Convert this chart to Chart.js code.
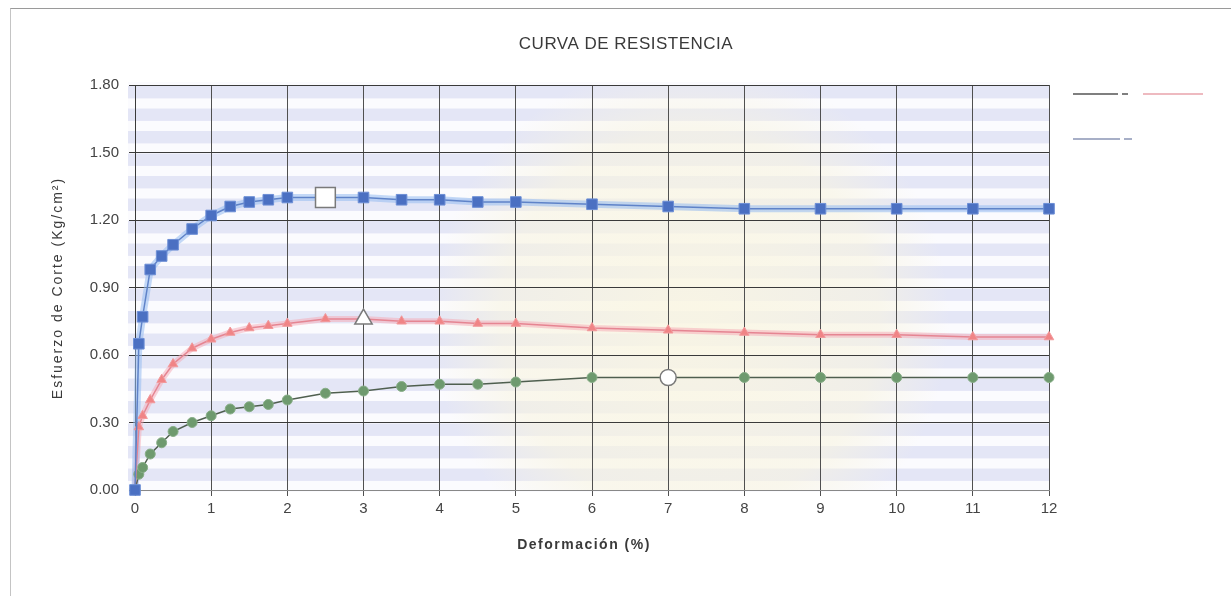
<!DOCTYPE html>
<html>
<head>
<meta charset="utf-8">
<title>Curva de Resistencia</title>
<script src="https://cdn.jsdelivr.net/npm/chart.js@4.4.1/dist/chart.umd.min.js"></script>
<style>
  html, body { margin: 0; padding: 0; background: #fff; }
  #wrap { position: relative; width: 1231px; height: 596px; overflow: hidden; }
  #frame { position: absolute; left: 10px; top: 8px; width: 1230px; height: 600px;
           border-left: 1px solid #c4c4c4; border-top: 1px solid #9a9a9a; }
  #chart { position: absolute; left: 0; top: 0; }
</style>
</head>
<body>
<div id="wrap">
  <div id="frame"></div>
  <canvas id="chart" width="1231" height="596"></canvas>
</div>
<script>
// Deformación (%) de cada lectura
const deformacion = [0, 0.05, 0.1, 0.2, 0.35, 0.5, 0.75, 1, 1.25, 1.5, 1.75, 2, 2.5, 3, 3.5, 4, 4.5, 5, 6, 7, 8, 9, 10, 11, 12];

// Esfuerzo de corte (Kg/cm2) por espécimen
const esfuerzoAzul = [0, 0.65, 0.77, 0.98, 1.04, 1.09, 1.16, 1.22, 1.26, 1.28, 1.29, 1.30, 1.30, 1.30, 1.29, 1.29, 1.28, 1.28, 1.27, 1.26, 1.25, 1.25, 1.25, 1.25, 1.25];
const esfuerzoRojo = [0, 0.28, 0.33, 0.40, 0.49, 0.56, 0.63, 0.67, 0.70, 0.72, 0.73, 0.74, 0.76, 0.76, 0.75, 0.75, 0.74, 0.74, 0.72, 0.71, 0.70, 0.69, 0.69, 0.68, 0.68];
const esfuerzoVerde = [0, 0.07, 0.10, 0.16, 0.21, 0.26, 0.30, 0.33, 0.36, 0.37, 0.38, 0.40, 0.43, 0.44, 0.46, 0.47, 0.47, 0.48, 0.50, 0.50, 0.50, 0.50, 0.50, 0.50, 0.50];

// punto marcado (hueco) de cada curva, por deformación
const picoAzul = 2.5;
const picoRojo = 3;
const picoVerde = 7;

const xTicks = [0, 1, 2, 3, 4, 5, 6, 7, 8, 9, 10, 11, 12];
const yTicks = [0, 0.30, 0.60, 0.90, 1.20, 1.50, 1.80];

const FONT = "'Liberation Sans', Arial, sans-serif";

function points(values) {
  return deformacion.map((x, i) => ({ x: x, y: values[i] }));
}

function markerStyle(pico, normal, big) {
  return {
    pointRadius: deformacion.map(x => x === pico ? big : normal),
    pointBackgroundColor: ctx => deformacion[ctx.dataIndex] === pico ? "#ffffff" : ctx.dataset.markerColor,
    pointBorderColor: ctx => deformacion[ctx.dataIndex] === pico ? "#7a7a7a" : ctx.dataset.markerEdge,
    pointBorderWidth: deformacion.map(x => x === pico ? 1.5 : 1)
  };
}

function halo(values, color, width) {
  return {
    data: points(values),
    borderColor: color,
    borderWidth: width,
    pointRadius: 0,
    tension: 0,
    order: 10
  };
}

function drawText(ctx, text, x, y, font, spacing, angle) {
  ctx.save();
  ctx.translate(x, y);
  if (angle) ctx.rotate(angle);
  ctx.font = font;
  ctx.letterSpacing = spacing;
  ctx.fillStyle = "#3a3a3a";
  ctx.textAlign = "center";
  ctx.textBaseline = "middle";
  ctx.fillText(text, 0, 0);
  ctx.restore();
}

const fondo = {
  id: "fondo",
  beforeDraw(chart) {
    const { ctx, chartArea: a } = chart;
    ctx.save();
    ctx.fillStyle = "#fbfbfe";
    ctx.fillRect(a.left - 7, a.top - 3, a.right - a.left + 8, a.bottom - a.top + 5);
    ctx.fillStyle = "rgba(200, 204, 238, 0.45)";
    const step = (a.bottom - a.top) / 18;
    for (let y = a.top + 1; y < a.bottom; y += step) {
      ctx.fillRect(a.left - 7, y, a.right - a.left + 8, step * 0.55);
    }
    // mancha clara del escaneo en el centro
    const g = ctx.createRadialGradient(690, 320, 20, 690, 320, 260);
    g.addColorStop(0, "rgba(250, 246, 226, 0.85)");
    g.addColorStop(0.7, "rgba(248, 244, 224, 0.6)");
    g.addColorStop(1, "rgba(248, 244, 224, 0)");
    ctx.fillStyle = g;
    ctx.fillRect(a.left, a.top, a.right - a.left, a.bottom - a.top);
    ctx.restore();
  },
  afterDraw(chart) {
    const ctx = chart.ctx;
    drawText(ctx, "CURVA DE RESISTENCIA", 626, 44, "17px " + FONT, "0.5px", 0);
    drawText(ctx, "Deformación (%)", 584, 545, "bold 14px " + FONT, "1.5px", 0);
    drawText(ctx, "Esfuerzo de Corte (Kg/cm²)", 58, 288, "14px " + FONT, "2px", -Math.PI / 2);

    // muestras de la leyenda (sin texto legible en el original)
    ctx.save();
    ctx.lineWidth = 1.5;
    ctx.strokeStyle = "#555";
    ctx.beginPath(); ctx.moveTo(1073, 94); ctx.lineTo(1118, 94); ctx.stroke();
    ctx.beginPath(); ctx.moveTo(1122, 94); ctx.lineTo(1128, 94); ctx.stroke();
    ctx.strokeStyle = "#e9a3ab";
    ctx.beginPath(); ctx.moveTo(1143, 94); ctx.lineTo(1203, 94); ctx.stroke();
    ctx.strokeStyle = "#8a94b4";
    ctx.beginPath(); ctx.moveTo(1073, 139); ctx.lineTo(1120, 139); ctx.stroke();
    ctx.beginPath(); ctx.moveTo(1124, 139); ctx.lineTo(1132, 139); ctx.stroke();
    ctx.restore();
  }
};

new Chart(document.getElementById("chart"), {
  type: "line",
  data: {
    datasets: [
      halo(esfuerzoAzul, "rgba(150, 188, 240, 0.55)", 7),
      halo(esfuerzoRojo, "rgba(246, 168, 180, 0.5)", 6),
      {
        label: "Espécimen 1",
        data: points(esfuerzoAzul),
        borderColor: "#5f83c8",
        borderWidth: 1.5,
        pointStyle: "rect",
        markerColor: "#4b70c2",
        markerEdge: "#6d8fd6",
        ...markerStyle(picoAzul, 7.5, 14),
        tension: 0,
        order: 1
      },
      {
        label: "Espécimen 2",
        data: points(esfuerzoRojo),
        borderColor: "#e58592",
        borderWidth: 1.5,
        pointStyle: "triangle",
        markerColor: "#f08486",
        markerEdge: "#f29a9c",
        ...markerStyle(picoRojo, 5.5, 10),
        tension: 0,
        order: 2
      },
      {
        label: "Espécimen 3",
        data: points(esfuerzoVerde),
        borderColor: "#4f5f4f",
        borderWidth: 1.5,
        pointStyle: "circle",
        markerColor: "#6e9a6e",
        markerEdge: "#88ae88",
        ...markerStyle(picoVerde, 5, 8),
        tension: 0,
        order: 3
      }
    ]
  },
  options: {
    responsive: false,
    animation: false,
    clip: false,
    layout: { padding: { top: 85, right: 182, bottom: 0, left: 0 } },
    plugins: {
      legend: { display: false },
      title: { display: false },
      tooltip: { enabled: false }
    },
    scales: {
      x: {
        type: "linear",
        min: 0,
        max: 12,
        afterBuildTicks: scale => { scale.ticks = xTicks.map(v => ({ value: v })); },
        afterFit: scale => { scale.height = 106; },
        ticks: {
          color: "#444",
          font: { size: 15, family: FONT },
          padding: 4,
          maxRotation: 0
        },
        grid: { color: "#505050", lineWidth: 1, tickLength: 6 },
        border: { color: "#888", width: 1 }
      },
      y: {
        min: 0,
        max: 1.8,
        afterBuildTicks: scale => { scale.ticks = yTicks.map(v => ({ value: v })); },
        afterFit: scale => { scale.width = 135; },
        ticks: {
          color: "#444",
          font: { size: 15, family: FONT },
          padding: 10,
          callback: v => v.toFixed(2)
        },
        grid: { color: "#3a3a3a", lineWidth: 1, tickLength: 6 },
        border: { color: "#3a3a3a", width: 1 }
      }
    }
  },
  plugins: [fondo]
});
</script>
</body>
</html>
